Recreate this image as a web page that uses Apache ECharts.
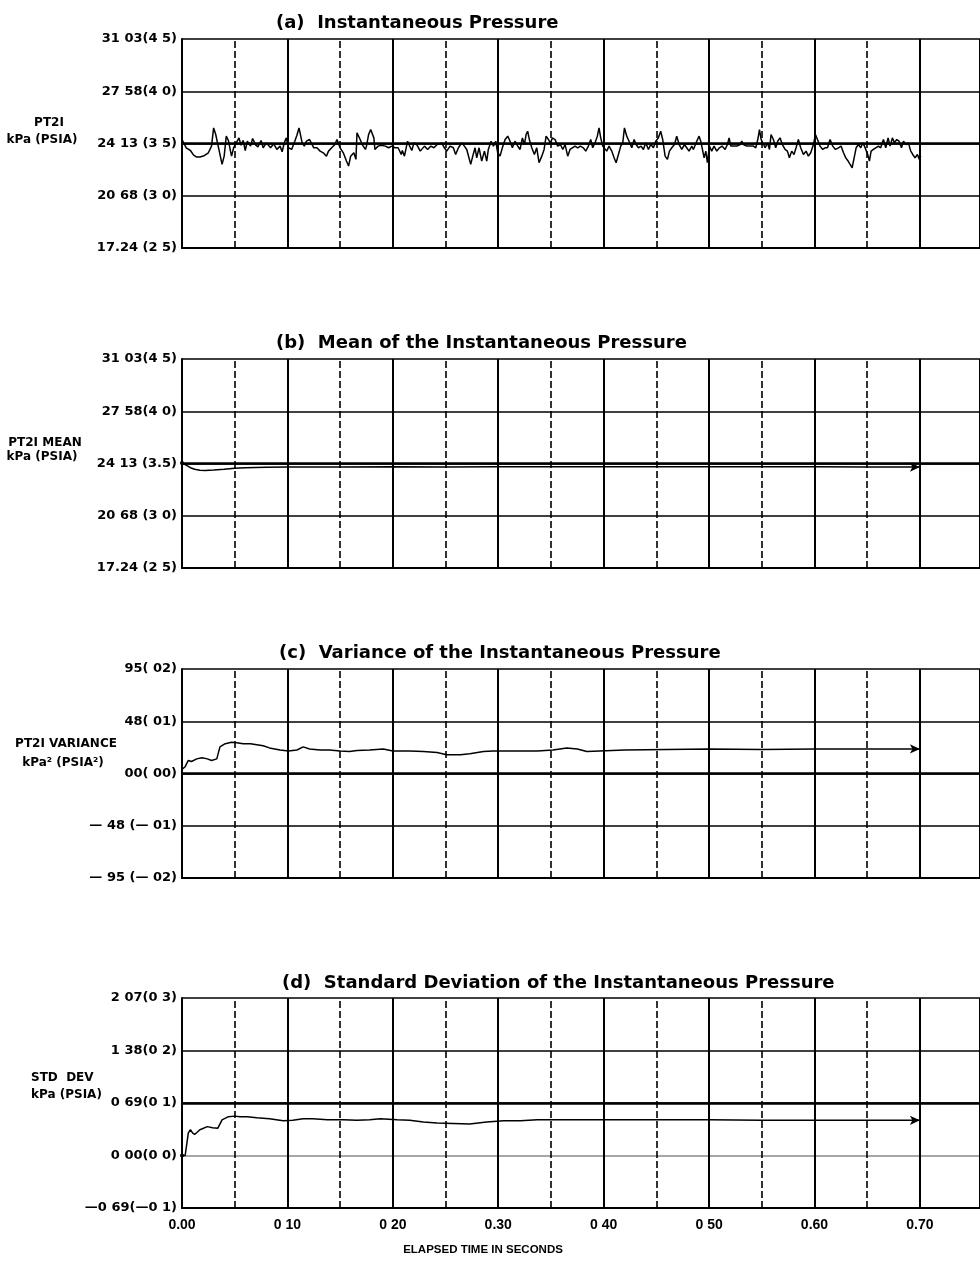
<!DOCTYPE html>
<html><head><meta charset="utf-8">
<script src="https://cdn.jsdelivr.net/npm/echarts@6/dist/echarts.min.js"></script>
<style>html,body{margin:0;padding:0;background:#fff}#c{width:980px;height:1261px}</style>
</head><body><div id="c"></div>
<script>
// ---------- DATA ----------
const xTickLabels = ['0.00','0 10','0 20','0.30','0 40','0 50','0.60','0.70'];
const minorTimes = [0.05,0.15,0.25,0.35,0.45,0.55,0.65];
const yTicksA = ['17.24 (2 5)','20 68 (3 0)','24 13 (3 5)','27 58(4 0)','31 03(4 5)'];
const yTicksB = ['17.24 (2 5)','20 68 (3 0)','24 13 (3.5)','27 58(4 0)','31 03(4 5)'];
const yTicksC = ['\u2014 95 (\u2014 02)','\u2014 48 (\u2014 01)','00( 00)','48( 01)','95( 02)'];
const yTicksD = ['\u20140 69(\u20140 1)','0 00(0 0)','0 69(0 1)','1 38(0 2)','2 07(0 3)'];
const titles = ['(a)  Instantaneous Pressure','(b)  Mean of the Instantaneous Pressure','(c)  Variance of the Instantaneous Pressure','(d)  Standard Deviation of the Instantaneous Pressure'];

// (a) instantaneous pressure, psia  [time s, value]
const pressureA = [
[0.000,3.538],[0.004,3.459],[0.008,3.433],[0.011,3.389],[0.014,3.370],[0.017,3.370],[0.021,3.383],[0.025,3.411],[0.028,3.475],[0.030,3.649],
[0.032,3.586],[0.034,3.490],[0.035,3.443],[0.037,3.348],[0.038,3.300],[0.040,3.379],[0.042,3.570],[0.044,3.529],[0.046,3.427],[0.047,3.379],
[0.049,3.459],[0.052,3.516],[0.054,3.554],[0.056,3.484],[0.058,3.529],[0.060,3.433],[0.062,3.522],[0.065,3.475],[0.067,3.548],[0.070,3.484],
[0.072,3.468],[0.075,3.529],[0.077,3.459],[0.080,3.506],[0.084,3.459],[0.087,3.497],[0.090,3.443],[0.093,3.475],[0.095,3.421],[0.097,3.506],
[0.099,3.554],[0.101,3.459],[0.104,3.443],[0.107,3.522],[0.109,3.579],[0.111,3.649],[0.114,3.506],[0.116,3.475],[0.118,3.522],[0.121,3.538],
[0.125,3.459],[0.128,3.459],[0.131,3.427],[0.134,3.411],[0.137,3.379],[0.139,3.427],[0.142,3.459],[0.145,3.490],[0.147,3.538],[0.150,3.459],
[0.153,3.411],[0.156,3.332],[0.158,3.284],[0.160,3.379],[0.163,3.411],[0.165,3.348],[0.166,3.602],[0.169,3.538],[0.171,3.490],[0.174,3.443],
[0.175,3.475],[0.177,3.586],[0.179,3.633],[0.182,3.554],[0.183,3.443],[0.186,3.475],[0.189,3.484],[0.193,3.475],[0.196,3.459],[0.199,3.475],
[0.202,3.459],[0.205,3.459],[0.208,3.395],[0.209,3.433],[0.211,3.379],[0.214,3.522],[0.216,3.475],[0.218,3.433],[0.220,3.506],[0.223,3.484],
[0.226,3.427],[0.230,3.475],[0.233,3.443],[0.236,3.475],[0.239,3.459],[0.242,3.490],[0.2464,3.506],[0.2489,3.459],[0.2511,3.427],[0.2543,3.475],
[0.2574,3.459],[0.2596,3.395],[0.2622,3.459],[0.2653,3.506],[0.2679,3.475],[0.2701,3.443],[0.2717,3.427],[0.2739,3.300],[0.2758,3.379],[0.2780,3.459],
[0.2796,3.363],[0.2818,3.459],[0.2843,3.332],[0.2869,3.427],[0.2891,3.332],[0.2906,3.443],[0.2932,3.522],[0.2954,3.475],[0.2976,3.522],[0.2995,3.411],
[0.3017,3.379],[0.3039,3.459],[0.3065,3.538],[0.3090,3.570],[0.3112,3.522],[0.3134,3.459],[0.3159,3.522],[0.3185,3.475],[0.3207,3.443],[0.3229,3.554],
[0.3248,3.490],[0.3264,3.586],[0.3279,3.617],[0.3295,3.538],[0.3318,3.459],[0.3343,3.395],[0.3365,3.459],[0.3387,3.316],[0.3413,3.379],[0.3435,3.443],
[0.3454,3.570],[0.3476,3.538],[0.3495,3.506],[0.3514,3.554],[0.3539,3.538],[0.3564,3.475],[0.3590,3.490],[0.3612,3.443],[0.3634,3.490],[0.3659,3.379],
[0.3681,3.443],[0.3703,3.459],[0.3728,3.475],[0.3754,3.459],[0.3779,3.475],[0.3807,3.459],[0.3830,3.427],[0.3855,3.475],[0.3877,3.538],[0.3896,3.459],
[0.3918,3.506],[0.3940,3.570],[0.3956,3.649],[0.3972,3.554],[0.3991,3.475],[0.4007,3.459],[0.4029,3.427],[0.4051,3.475],[0.4077,3.427],[0.4099,3.363],
[0.4118,3.316],[0.4140,3.395],[0.4162,3.475],[0.4181,3.506],[0.4197,3.649],[0.4219,3.570],[0.4241,3.522],[0.4267,3.459],[0.4289,3.538],[0.4308,3.490],
[0.4330,3.459],[0.4355,3.475],[0.4377,3.443],[0.4399,3.506],[0.4425,3.443],[0.4447,3.490],[0.4472,3.459],[0.4494,3.522],[0.4519,3.554],[0.4541,3.617],
[0.4560,3.538],[0.4583,3.379],[0.4605,3.348],[0.4624,3.427],[0.4646,3.459],[0.4672,3.490],[0.4693,3.570],[0.4716,3.490],[0.4741,3.443],[0.4766,3.490],
[0.4788,3.459],[0.4810,3.427],[0.4836,3.475],[0.4851,3.443],[0.4883,3.522],[0.4905,3.570],[0.4921,3.522],[0.4937,3.443],[0.4953,3.363],[0.4969,3.427],
[0.4984,3.316],[0.5003,3.475],[0.5025,3.427],[0.5047,3.475],[0.5073,3.427],[0.5098,3.459],[0.5123,3.475],[0.5152,3.443],[0.5174,3.490],[0.5190,3.554],
[0.5206,3.475],[0.5231,3.475],[0.5263,3.475],[0.5294,3.490],[0.5310,3.522],[0.5326,3.490],[0.5357,3.475],[0.5389,3.475],[0.5421,3.475],[0.5443,3.459],
[0.5462,3.538],[0.5478,3.633],[0.5494,3.538],[0.5510,3.554],[0.5532,3.459],[0.5554,3.506],[0.5573,3.443],[0.5588,3.586],[0.5610,3.538],[0.5632,3.459],
[0.5651,3.522],[0.5673,3.554],[0.5695,3.490],[0.5721,3.443],[0.5743,3.427],[0.5762,3.363],[0.5784,3.427],[0.5806,3.395],[0.5825,3.459],[0.5847,3.538],
[0.5869,3.459],[0.5895,3.395],[0.5920,3.427],[0.5942,3.379],[0.5964,3.411],[0.5990,3.490],[0.6009,3.586],[0.6028,3.538],[0.6053,3.475],[0.6078,3.443],
[0.6100,3.459],[0.6123,3.459],[0.6148,3.538],[0.6173,3.475],[0.6199,3.443],[0.6227,3.459],[0.6252,3.475],[0.6275,3.411],[0.6297,3.363],[0.6319,3.332],
[0.6338,3.300],[0.6357,3.268],[0.6376,3.363],[0.6395,3.459],[0.6417,3.490],[0.6439,3.459],[0.6458,3.506],[0.6474,3.475],[0.6490,3.490],[0.6505,3.395],
[0.6521,3.332],[0.6537,3.427],[0.6559,3.443],[0.6581,3.459],[0.6606,3.475],[0.6628,3.459],[0.6654,3.538],[0.6676,3.459],[0.6698,3.554],[0.6717,3.475],
[0.6739,3.554],[0.6758,3.506],[0.6780,3.538],[0.6802,3.522],[0.6825,3.459],[0.6844,3.522],[0.6869,3.490],[0.6891,3.506],[0.6913,3.427],[0.6932,3.395],
[0.6954,3.363],[0.6976,3.395],[0.6995,3.348],[0.7008,3.379]
];

// (b) running mean, psia
const meanB = [
[0,3.505],[0.003,3.49],[0.008,3.46],[0.012,3.445],[0.017,3.436],[0.022,3.433],[0.03,3.437],[0.04,3.445],[0.05,3.455],[0.06,3.46],
[0.08,3.463],[0.1,3.466],[0.15,3.467],[0.2,3.468],[0.25,3.467],[0.3,3.468],[0.35,3.468],[0.4,3.469],[0.45,3.47],[0.5,3.469],
[0.55,3.468],[0.6,3.468],[0.65,3.467],[0.7,3.466]
];

// (c) running variance, psia^2
const varianceC = [
[0,0.0008],[0.003,0.0013],[0.006,0.0025],[0.009,0.0023],[0.014,0.0028],[0.019,0.0030],[0.024,0.0028],[0.028,0.0025],[0.033,0.0028],[0.036,0.0051],
[0.041,0.0057],[0.047,0.0060],[0.052,0.0059],[0.058,0.0057],[0.065,0.0057],[0.071,0.0055],[0.077,0.0053],[0.083,0.0049],[0.093,0.0045],[0.101,0.0043],
[0.109,0.0045],[0.115,0.0051],[0.121,0.0047],[0.131,0.0045],[0.140,0.0045],[0.150,0.0043],[0.159,0.0042],[0.166,0.0044],[0.178,0.0045],[0.191,0.0047],
[0.200,0.0043],[0.216,0.0043],[0.229,0.0042],[0.242,0.0040],[0.251,0.0036],[0.264,0.0036],[0.273,0.0038],[0.286,0.0042],[0.295,0.0043],[0.302,0.0043],
[0.321,0.0043],[0.337,0.0043],[0.352,0.0045],[0.365,0.0049],[0.375,0.0047],[0.384,0.0042],[0.42,0.0045],[0.46,0.0046],[0.50,0.0047],[0.55,0.0046],
[0.60,0.0047],[0.65,0.0047],[0.70,0.0047]
];

// (d) running standard deviation, psia
const stdDevD = [
[0,0.0],[0.003,0.0],[0.006,0.043],[0.008,0.049],[0.010,0.043],[0.012,0.040],[0.017,0.049],[0.024,0.055],[0.029,0.053],[0.034,0.052],
[0.038,0.068],[0.044,0.074],[0.050,0.075],[0.055,0.074],[0.062,0.074],[0.071,0.072],[0.083,0.070],[0.096,0.066],[0.105,0.067],[0.115,0.070],
[0.124,0.070],[0.138,0.068],[0.153,0.068],[0.166,0.067],[0.178,0.068],[0.188,0.070],[0.204,0.068],[0.216,0.067],[0.229,0.064],[0.242,0.062],
[0.257,0.061],[0.273,0.060],[0.289,0.064],[0.305,0.066],[0.321,0.066],[0.337,0.068],[0.352,0.068],[0.368,0.068],[0.384,0.068],[0.45,0.068],
[0.5,0.068],[0.55,0.067],[0.6,0.067],[0.65,0.067],[0.70,0.067]
];

// axis ranges [min, max, interval] and emphasised reference lines
const X_MAX = 0.757;
const yRanges = [[2.5,4.5,0.5],[2.5,4.5,0.5],[-0.02,0.02,0.01],[-0.1,0.3,0.1]];
const heavyLines = [3.5, 3.5, 0, 0.1];

// ---------- CHART ----------
const chart = echarts.init(document.getElementById('c'), null, {renderer:'canvas'});
const tickSets = [yTicksA, yTicksB, yTicksC, yTicksD];
const seriesData = [pressureA, meanB, varianceC, stdDevD];
const gridTops = [39, 359, 669, 998];
const gridHeights = [209, 209, 209, 210];
const titleTops = [9, 329, 639, 969];
const titleLefts = [271, 271, 274, 277];

const fmtY = (labels, min, step) => v => { const i = Math.round((v - min) / step); return labels[i] !== undefined ? labels[i] : ''; };
const fmtX = v => { const i = Math.round(v / 0.1); return Math.abs(v - i * 0.1) < 1e-6 && xTickLabels[i] !== undefined ? xTickLabels[i] : ''; };

const grids = [], xAxes = [], yAxes = [], series = [], title = [];
for (let k = 0; k < 4; k++) {
  grids.push({left:182, right:0, top:gridTops[k], height:gridHeights[k], containLabel:false});
  xAxes.push({
    gridIndex:k, type:'value', min:0, max:X_MAX, interval:0.1,
    axisLine:{show:true, onZero:false, lineStyle:{color:'#000', width:2}},
    axisTick:{show:false},
    axisLabel:{show:k===3, formatter:fmtX, color:'#000', fontFamily:'Liberation Sans', fontWeight:'bold', fontSize:14, margin:10, showMaxLabel:false, showMinLabel:true},
    splitLine:{show:true, lineStyle:{color:'#000', width:2}}
  });
  const [mn, mx, iv] = yRanges[k];
  yAxes.push({
    gridIndex:k, type:'value', min:mn, max:mx, interval:iv,
    axisLine:{show:true, onZero:false, lineStyle:{color:'#000', width:2}},
    axisTick:{show:false},
    axisLabel:{formatter:fmtY(tickSets[k], mn, iv), color:'#000', fontFamily:'DejaVu Sans', fontWeight:'bold', fontSize:13, margin:5},
    splitLine:{show:true, lineStyle:{color: k===3 ? ['#000','#8a8a8a','#000','#000','#000'] : '#000', width:1.5}}
  });
  const src = seriesData[k];
  const data = src.map((p, idx) => {
    if (idx === src.length - 1 && k > 0) return {value:p, symbol:'arrow', symbolSize:[7,10], symbolRotate:-90, itemStyle:{color:'#000'}};
    if (idx === 0 && (k === 1 || k === 3)) return {value:p, symbol:'circle', symbolSize:4, itemStyle:{color:'#000'}};
    return {value:p};
  });
  const ml = [{yAxis:heavyLines[k], lineStyle:{color:'#000', width:2.6, type:'solid'}}]
    .concat(minorTimes.map(t => ({xAxis:t, lineStyle:{color:'#000', width:1.6, type:[7,3]}})));
  series.push({
    type:'line', xAxisIndex:k, yAxisIndex:k, data:data, symbol:'none', showSymbol:true,
    lineStyle:{color:'#000', width:1.5}, itemStyle:{color:'#000'}, z:5, silent:true,
    markLine:{silent:true, symbol:'none', label:{show:false}, z:3, data:ml}
  });
  title.push({text:titles[k], left:titleLefts[k], top:titleTops[k], textStyle:{fontFamily:'DejaVu Sans', fontWeight:'bold', fontSize:18, color:'#000'}});
}

const nameFont = 'bold 12px "DejaVu Sans"';
const txt = (text, x, y, align) => ({type:'text', x:x, y:y, style:{text:text, font:nameFont, fill:'#000', textAlign:align||'center', textVerticalAlign:'middle'}});
const graphic = [
  txt('PT2I', 49, 123), txt('kPa (PSIA)', 42, 140),
  txt('PT2I MEAN', 45, 443), txt('kPa (PSIA)', 42, 457),
  txt('PT2I VARIANCE', 66, 744), txt('kPa\u00b2 (PSIA\u00b2)', 63, 763),
  txt('STD  DEV', 31, 1078, 'left'), txt('kPa (PSIA)', 31, 1095, 'left'),
  {type:'text', x:483, y:1250, style:{text:'ELAPSED TIME IN SECONDS', font:'bold 11.5px "Liberation Sans"', fill:'#000', textAlign:'center', textVerticalAlign:'middle'}}
];

chart.setOption({
  animation:false, backgroundColor:'#fff',
  title:title, grid:grids, xAxis:xAxes, yAxis:yAxes, series:series, graphic:graphic
});
</script></body></html>
